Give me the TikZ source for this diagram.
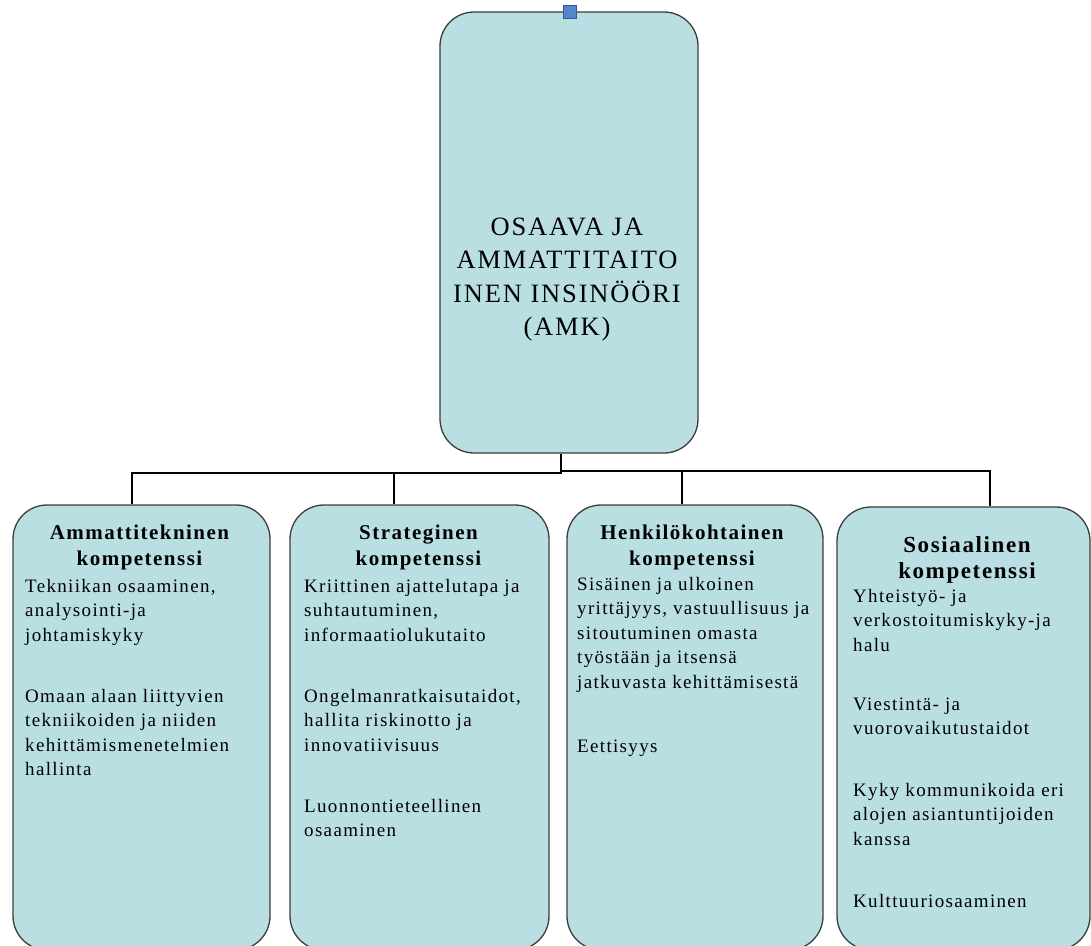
\documentclass[tikz,border=0pt]{standalone}
\usepackage{fontspec}
\setmainfont{Liberation Serif}
\newfontfamily\lsfont[LetterSpace=7]{Liberation Serif}
\definecolor{boxfill}{RGB}{185,223,227}
\definecolor{boxline}{RGB}{60,60,60}
\definecolor{handlefill}{RGB}{84,134,200}
\definecolor{handleline}{RGB}{50,90,150}
\begin{document}
\begin{tikzpicture}[x=1pt,y=-1pt,
  box/.style={draw=boxline, fill=boxfill, line width=1.3pt, rounded corners=34pt, inner sep=0pt},
  conn/.style={draw=black, line width=1.5pt},
  head/.style={anchor=base, align=center, inner sep=0pt, font=\lsfont\bfseries\fontsize{21}{26.5}\selectfont},
  headbig/.style={head, font=\lsfont\bfseries\fontsize{23}{26}\selectfont},
  body/.style={anchor=base west, align=left, inner sep=0pt, font=\lsfont\fontsize{19}{24.5}\selectfont},
  title/.style={anchor=base, align=center, inner sep=0pt, font=\lsfont\fontsize{26.5}{33.5}\selectfont}
]
\useasboundingbox (0,0) rectangle (1091,945);
\clip (0,0) rectangle (1091,945);

% top box
\node[box, minimum width=258pt, minimum height=441pt] (top) at (569,232.5) {};
\node[title] (ttl) at (567,335.5) {OSAAVA JA\\AMMATTITAITO\\INEN INSINÖÖRI\\(AMK)};
\node[draw=handleline, fill=handlefill, line width=0.8pt, minimum size=13pt, inner sep=0pt] (handle) at (569.5,12) {};

% lower boxes
\node[box, minimum width=257pt, minimum height=445pt] (b1) at (141.5,727.5) {};
\node[box, minimum width=259pt, minimum height=445pt] (b2) at (419.5,727.5) {};
\node[box, minimum width=256pt, minimum height=445pt] (b3) at (695,727.5) {};
\node[box, minimum width=253pt, minimum height=443pt] (b4) at (963.5,728.5) {};

% connectors
\coordinate (jL) at (561,473);
\coordinate (jR) at (561,471);
\coordinate (x1) at (132,0);
\coordinate (x2) at (394,0);
\coordinate (x3) at (682,0);
\coordinate (x4) at (990,0);
\draw[conn] (top.south -| jL) -- (jL) -| (b1.north -| x1);
\draw[conn] (jL) -| (b2.north -| x2);
\draw[conn] (jR) -| (b3.north -| x3);
\draw[conn] (jR) -| (b4.north -| x4);

% headings (anchor = baseline of last line)
\node[head] (h1) at (139.5,565.5) {Ammattitekninen\\kompetenssi};
\node[head] (h2) at (418.5,565.5) {Strateginen\\kompetenssi};
\node[head] (h3) at (692,565.5) {Henkilökohtainen\\kompetenssi};
\node[headbig] (h4) at (967,578) {Sosiaalinen\\kompetenssi};

% body texts (anchor = baseline of last line)
\node[body] (b1p1) at (25,641) {Tekniikan osaaminen,\\analysointi-ja\\johtamiskyky};
\node[body] (b1p2) at (25,775.5) {Omaan alaan liittyvien\\tekniikoiden ja niiden\\kehittämismenetelmien\\hallinta};

\node[body] (b2p1) at (304,641) {Kriittinen ajattelutapa ja\\suhtautuminen,\\informaatiolukutaito};
\node[body] (b2p2) at (304,751) {Ongelmanratkaisutaidot,\\hallita riskinotto ja\\innovatiivisuus};
\node[body] (b2p3) at (304,836.5) {Luonnontieteellinen\\osaaminen};

\node[body] (b3p1) at (577,688) {Sisäinen ja ulkoinen\\yrittäjyys, vastuullisuus ja\\sitoutuminen omasta\\työstään ja itsensä\\jatkuvasta kehittämisestä};
\node[body] (b3p2) at (577,752) {Eettisyys};

\node[body] (b4p1) at (853,651) {Yhteistyö- ja\\verkostoitumiskyky-ja\\halu};
\node[body] (b4p2) at (853,734.5) {Viestintä- ja\\vuorovaikutustaidot};
\node[body] (b4p3) at (853,845) {Kyky kommunikoida eri\\alojen asiantuntijoiden\\kanssa};
\node[body] (b4p4) at (853,907) {Kulttuuriosaaminen};
\end{tikzpicture}
\end{document}
